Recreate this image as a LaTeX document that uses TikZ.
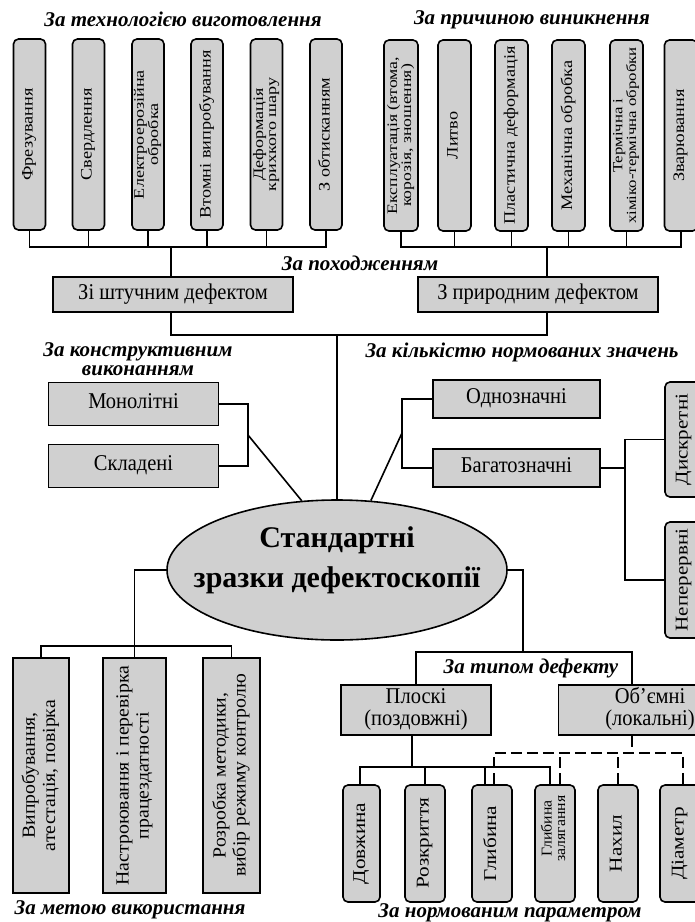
\documentclass[tikz,border=0pt]{standalone}
\usepackage{fontspec}
\usepackage{graphicx}
\setmainfont{Liberation Serif}
\usetikzlibrary{shapes.geometric}
\definecolor{boxgray}{RGB}{208,208,208}
\newcommand{\vtext}[2][1.14]{\scalebox{#1}[1]{\begin{tabular}{@{}c@{}}#2\end{tabular}}}
\newcommand{\htext}[1]{\scalebox{1}[1.1]{\begin{tabular}{@{}c@{}}#1\end{tabular}}}

\begin{document}
\begin{tikzpicture}[x=1pt, y=-1pt,
    wire/.style={line width=1.6pt},
    dwire/.style={line width=1.6pt, dash pattern={on 11pt off 5pt}},
    vbox/.style={draw, line width=1.6pt, fill=boxgray, rounded corners=5pt, rotate=90, inner sep=0pt, align=center, font=\fontsize{16}{14}\selectfont},
    topbox/.style={vbox, minimum width=191pt, minimum height=32pt},
    twoline/.style={font=\fontsize{14.5}{13}\selectfont},
    parbox/.style={vbox, minimum width=117pt, minimum height=40pt, font=\fontsize{18}{15}\selectfont},
    sbox/.style={draw, line width=1.6pt, fill=boxgray, rotate=90, inner sep=0pt, align=center, minimum width=235pt, font=\fontsize{18.5}{20}\selectfont},
    hbox/.style={draw, line width=1.6pt, fill=boxgray, inner sep=1pt, align=center, font=\fontsize{20.5}{20}\selectfont},
    group/.style={font=\fontsize{21}{19}\selectfont\bfseries\itshape, inner sep=0pt, align=center}]
    \useasboundingbox (0, 0) rectangle (695, 922);
    \clip (0, 0) rectangle (695, 922);
    % Paths, nodes and wires:
    \node[group] (techT) at (183, 19) {За технологією виготовлення};
    \node[topbox] (t1) at (29.5, 134.5) {\vtext{Фрезування}};
    \node[topbox] (t2) at (88.5, 134.5) {\vtext{Свердлення}};
    \node[topbox, twoline] (t3) at (148, 134.5) {\vtext[1.25]{Електроерозійна\\обробка}};
    \node[topbox] (t4) at (207, 134.5) {\vtext{Втомні випробування}};
    \node[topbox, twoline] (t5) at (266.5, 134.5) {\vtext[1.25]{Деформація\\крихкого шару}};
    \node[topbox] (t6) at (326, 134.5) {\vtext{З обтисканням}};
    \coordinate (busL) at (171, 247);
    \draw[wire] (t1.west) |- (busL) -| (t6.west);
    \draw[wire] (t2.west) -- (t2.west |- busL);
    \draw[wire] (t3.west) -- (t3.west |- busL);
    \draw[wire] (t4.west) -- (t4.west |- busL);
    \draw[wire] (t5.west) -- (t5.west |- busL);

    \node[group] (causeT) at (532, 20) {За причиною виникнення};
    \node[topbox, twoline, minimum height=34pt] (r1) at (401, 135.5) {\vtext[1.22]{Експлуатація (втома,\\корозія, зношення)}};
    \node[topbox, minimum height=33pt] (r2) at (454.5, 135.5) {\vtext{Литво}};
    \node[topbox, minimum height=33pt] (r3) at (511.5, 135.5) {\vtext{Пластична деформація}};
    \node[topbox, minimum height=33pt] (r4) at (568.5, 135.5) {\vtext{Механічна обробка}};
    \node[topbox, minimum height=33pt, font=\fontsize{14}{12.5}\selectfont] (r5) at (626.5, 135.5) {\vtext[1.2]{Термічна і\\хіміко-термічна обробки}};
    \node[topbox, minimum height=33pt] (r6) at (681, 135.5) {\vtext{Зварювання}};
    \coordinate (busR) at (547, 247);
    \draw[wire] (r1.west) |- (busR) -| (r6.west);
    \draw[wire] (r2.west) -- (r2.west |- busR);
    \draw[wire] (r3.west) -- (r3.west |- busR);
    \draw[wire] (r4.west) -- (r4.west |- busR);
    \draw[wire] (r5.west) -- (r5.west |- busR);

    \node[group] (origT) at (360, 263) {За походженням};
    \node[hbox, minimum width=240pt, minimum height=35pt] (art) at (173, 294.5) {\htext{Зі штучним дефектом}};
    \node[hbox, minimum width=240pt, minimum height=35pt] (nat) at (538, 294.5) {\htext{З природним дефектом}};
    \draw[wire] (busL) -- (busL |- art.north);
    \draw[wire] (busR) -- (busR |- nat.north);

    \node[ellipse, draw, line width=1.6pt, fill=boxgray, minimum width=340pt, minimum height=140pt, inner sep=0pt] (ell) at (337, 570) {};
    \node[font=\fontsize{30}{40}\selectfont\bfseries, align=center, inner sep=0pt] (ellT) at (337, 560) {Стандартні\\зразки дефектоскопії};
    \coordinate (join) at (337, 335);
    \draw[wire] (art.south -| busL) |- (join) -| (nat.south -| busR);
    \draw[wire] (join) -- (ell.north);

    \node[group] (constT) at (138, 359) {За конструктивним\\виконанням};
    \node[hbox, minimum width=170pt, minimum height=43pt] (mono) at (133.5, 404) {\htext{Монолітні}};
    \node[hbox, minimum width=170pt, minimum height=43pt] (compo) at (133.5, 466) {\htext{Складені}};
    \coordinate (brL) at (248, 435);
    \draw[wire] (mono.east) -| (brL) |- (compo.east);
    \draw[wire] (brL) -- (ell.117);

    \node[group] (countT) at (522, 352) {За кількістю нормованих значень};
    \node[hbox, minimum width=167pt, minimum height=38pt] (single) at (516.5, 399) {\htext{Однозначні}};
    \node[hbox, minimum width=167pt, minimum height=38pt] (multi) at (516.5, 468) {\htext{Багатозначні}};
    \coordinate (brR) at (402, 433);
    \draw[wire] (single.west) -| (brR) |- (multi.west);
    \draw[wire] (brR) -- (ell.64);
    \node[vbox, minimum width=115pt, minimum height=38pt, font=\fontsize{18}{18}\selectfont] (disc) at (684, 439.5) {\vtext[1.17]{Дискретні}};
    \node[vbox, minimum width=116pt, minimum height=38pt, font=\fontsize{18}{18}\selectfont] (cont) at (684, 580) {\vtext[1.17]{Неперервні}};
    \coordinate (brD) at (625, 468);
    \draw[wire] (multi.east) -- (brD);
    \draw[wire] (disc.north) -| (brD) |- (cont.north);

    \node[group] (useT) at (130, 910) {За метою використання};
    \node[sbox, minimum height=56pt] (u1) at (41, 775.5) {\vtext[1.07]{Випробування,\\атестація, повірка}};
    \node[sbox, minimum height=63pt] (u2) at (134.5, 775.5) {\vtext[1.07]{Настроювання і перевірка\\працездатності}};
    \node[sbox, minimum height=57pt] (u3) at (231.5, 775.5) {\vtext[1.07]{Розробка методики,\\вибір режиму контролю}};
    \coordinate (busU) at (134.5, 646);
    \draw[wire] (ell.west) -| (busU);
    \draw[wire] (u1.east) |- (busU) -| (u3.east);
    \draw[wire] (busU) -- (u2.east);

    \coordinate (busT) at (523, 652);
    \draw[wire] (ell.east) -| (busT);
    \node[group] (typeT) at (531, 668) {За типом дефекту};
    \node[hbox, minimum width=150pt, minimum height=50pt] (flat) at (416, 710) {\htext{Плоскі\\(поздовжні)}};
    \node[hbox, minimum width=183pt, minimum height=50pt] (vol) at (650, 710) {\htext{Об’ємні\\(локальні)}};
    \coordinate (volT) at ([xshift=-18pt]vol.north);
    \coordinate (volB) at ([xshift=-18pt]vol.south);
    \draw[wire] (flat.north) |- (busT) -| (volT);

    \node[parbox, minimum height=37pt] (p1) at (361.5, 843.5) {\vtext[1.18]{Довжина}};
    \node[parbox] (p2) at (425, 843.5) {\vtext[1.18]{Розкриття}};
    \node[parbox] (p3) at (492, 843.5) {\vtext[1.18]{Глибина}};
    \node[parbox, font=\fontsize{15}{13.5}\selectfont] (p4) at (555, 843.5) {\hspace*{30pt}\vtext[1.05]{Глибина\\залягання}};
    \node[parbox] (p5) at (618, 843.5) {\vtext[1.18]{Нахил}};
    \node[parbox] (p6) at (680, 843.5) {\vtext[1.18]{Діаметр}};
    \coordinate (busP) at (412, 767);
    \coordinate (s1) at ([xshift=-1.5pt]p1.east);
    \coordinate (s3) at ([xshift=-7pt]p3.east);
    \coordinate (s4) at ([xshift=-5pt]p4.east);
    \draw[wire] (flat.south -| busP) -- (busP);
    \draw[wire] (s1) |- (busP) -| (s4);
    \draw[wire] (p2.east) -- (p2.east |- busP);
    \draw[wire] (s3) -- (s3 |- busP);
    \coordinate (busV) at (632, 753);
    \coordinate (d3) at ([xshift=2pt]p3.east);
    \coordinate (d4) at ([xshift=5pt]p4.east);
    \coordinate (d6) at ([xshift=3pt]p6.east);
    \draw[dwire] (volB) -- (busV);
    \draw[dwire] (d3) |- (busV) -| (d6);
    \draw[dwire] (d4) -- (d4 |- busV);
    \draw[dwire] (p5.east) -- (p5.east |- busV);
    \node[group] (paramT) at (510, 913) {За нормованим параметром};
  \end{tikzpicture}
\end{document}
